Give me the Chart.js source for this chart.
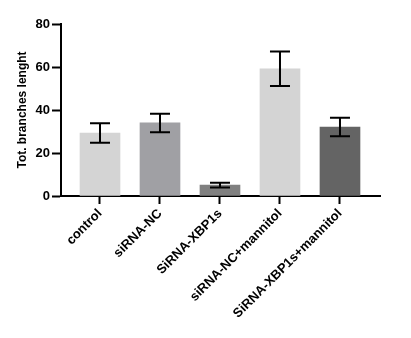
<!DOCTYPE html>
<html>
<head>
<meta charset="utf-8">
<script src="https://cdn.jsdelivr.net/npm/chart.js@4"></script>
<style>
  html, body { margin: 0; padding: 0; background: #fff; }
  #wrap { width: 411px; height: 338px; position: relative; }
</style>
</head>
<body>
<div id="wrap"><canvas id="chart"></canvas></div>
<script>
const categories = ["control", "siRNA-NC", "SiRNA-XBP1s", "siRNA-NC+mannitol", "SiRNA-XBP1s+mannitol"];
const means = [29.3, 34.0, 5.1, 59.2, 32.1];
const errors = [4.5, 4.3, 1.1, 8.0, 4.3];
const barColors = ["#d4d4d4", "#a0a0a4", "#808080", "#d4d4d4", "#646464"];
const yTicks = [0, 20, 40, 60, 80];

const family = "'Liberation Sans', Arial, sans-serif";
const titleFont = { family, size: 12, weight: "bold" };
const tickFont = { family, size: 13, weight: "bold" };

// draws the mean +/- error whiskers
const errorBars = {
  id: "errorBars",
  afterDatasetsDraw(chart) {
    const ctx = chart.ctx;
    const x = chart.scales.x, y = chart.scales.y;
    ctx.save();
    ctx.strokeStyle = "#000";
    ctx.lineWidth = 2;
    means.forEach((m, i) => {
      const px = x.getPixelForValue(i);
      const top = y.getPixelForValue(m + errors[i]);
      const bot = y.getPixelForValue(m - errors[i]);
      ctx.beginPath();
      ctx.moveTo(px, top); ctx.lineTo(px, bot);
      ctx.moveTo(px - 10, top); ctx.lineTo(px + 10, top);
      ctx.moveTo(px - 10, bot); ctx.lineTo(px + 10, bot);
      ctx.stroke();
    });
    ctx.restore();
  }
};

new Chart(document.getElementById("chart"), {
  type: "bar",
  data: {
    datasets: [{
      data: means.map((v, i) => ({ x: i, y: v })),
      backgroundColor: barColors,
      borderWidth: 0,
      barThickness: 40
    }]
  },
  options: {
    responsive: true,
    maintainAspectRatio: false,
    animation: false,
    layout: { padding: { top: 24, right: 31, left: 0, bottom: 0 } },
    plugins: { legend: { display: false }, tooltip: { enabled: false } },
    scales: {
      x: {
        type: "linear",
        offset: false,
        min: -0.65,
        max: 4.667,
        afterBuildTicks: (s) => { s.ticks = categories.map((c, i) => ({ value: i })); },
        afterFit: (s) => { s.height = 142; s.paddingLeft = 0; s.paddingRight = 0; },
        grid: { offset: false, drawOnChartArea: false, drawTicks: true, tickLength: 8, tickWidth: 2, tickColor: "#000" },
        border: { color: "#000", width: 2 },
        ticks: {
          autoSkip: false,
          minRotation: 45,
          maxRotation: 45,
          color: "#000",
          font: tickFont,
          padding: 2,
          callback: (v) => categories[v] || ""
        }
      },
      y: {
        min: 0,
        max: 80,
        afterBuildTicks: (s) => { s.ticks = yTicks.map(v => ({ value: v })); },
        afterFit: (s) => { s.width = 61; },
        grid: { drawOnChartArea: false, drawTicks: true, tickLength: 9, tickWidth: 2, tickColor: "#000" },
        border: { color: "#000", width: 2 },
        ticks: { color: "#000", font: tickFont, padding: 2 },
        title: {
          display: true,
          text: "Tot. branches lenght",
          color: "#000",
          font: titleFont,
          padding: { top: 15, bottom: 0 }
        }
      }
    }
  },
  plugins: [errorBars]
});
</script>
</body>
</html>
